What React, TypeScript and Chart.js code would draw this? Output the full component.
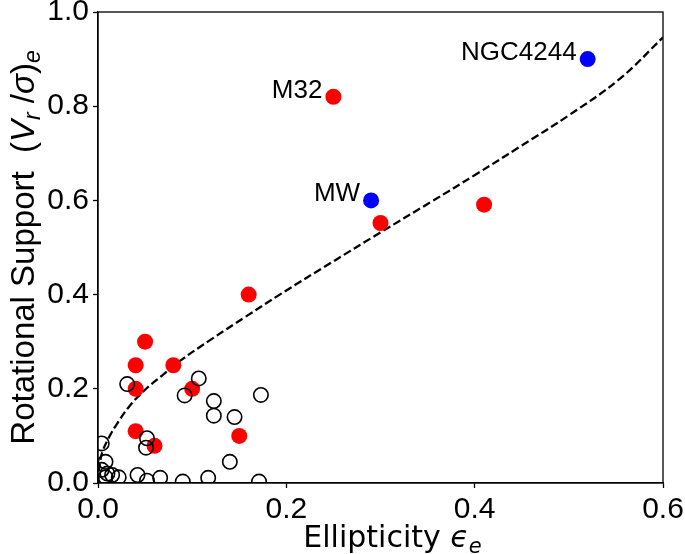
import React, { useEffect, useRef } from 'react';
import { Chart, registerables } from 'chart.js';

Chart.register(...registerables);

const FONT = '"Liberation Sans", "DejaVu Sans", Arial, sans-serif';
const FONT_WIDE = '"DejaVu Sans", "Liberation Sans", sans-serif';

const xTicks = [0, 0.2, 0.4, 0.6];
const yTicks = [0, 0.2, 0.4, 0.6, 0.8, 1.0];

// Open circles (comparison sample)
const openX = [0.031, 0.107, 0.092, 0.123, 0.123, 0.145, 0.173, 0.004, 0.052, 0.051, 0.140, 0.042, 0.066, 0.090, 0.117, 0.171, 0.052, 0.008, 0.004, 0.010, 0.015, 0.008, 0.022];
const openY = [0.210, 0.222, 0.186, 0.174, 0.143, 0.140, 0.187, 0.084, 0.095, 0.075, 0.045, 0.017, 0.011, 0.003, 0.011, 0.003, 0.005, 0.045, 0.028, 0.020, 0.017, 0.012, 0.012];

// Red filled points
const redX = [0.25, 0.30, 0.41, 0.16, 0.05, 0.04, 0.08, 0.04, 0.10, 0.04, 0.06, 0.15];
const redY = [0.82, 0.552, 0.591, 0.40, 0.30, 0.25, 0.25, 0.20, 0.20, 0.11, 0.079, 0.10];

// Blue filled points
const blueX = [0.29, 0.52];
const blueY = [0.60, 0.90];

// Dashed curve
const curveX = [0, 0.002, 0.005, 0.012, 0.019, 0.033, 0.05, 0.068, 0.089, 0.121, 0.156, 0.193, 0.247, 0.300, 0.353, 0.402, 0.448, 0.501, 0.554, 0.600];
const curveY = [0, 0.042, 0.068, 0.098, 0.122, 0.162, 0.198, 0.228, 0.262, 0.306, 0.352, 0.400, 0.467, 0.532, 0.596, 0.656, 0.714, 0.782, 0.858, 0.946];

// Annotations
const labelNames = ['M32', 'MW', 'NGC4244'];
const labelX = [0.25, 0.29, 0.52];
const labelY = [0.82, 0.60, 0.90];

const toPts = (xs: number[], ys: number[]) => xs.map((x, i) => ({ x, y: ys[i] }));

type Seg = { t: string; size: number; italic?: boolean; dy?: number; family?: string };

function drawSegs(ctx: CanvasRenderingContext2D, segs: Seg[]) {
  let total = 0;
  const widths: number[] = [];
  const fontOf = (s: Seg) => `${s.italic ? 'italic ' : ''}${s.size}px ${s.family || FONT}`;
  for (const s of segs) {
    ctx.font = fontOf(s);
    const w = ctx.measureText(s.t).width;
    widths.push(w);
    total += w;
  }
  let x = -total / 2;
  segs.forEach((s, i) => {
    ctx.font = fontOf(s);
    ctx.fillText(s.t, x, s.dy || 0);
    x += widths[i];
  });
}

const framePlugin = {
  id: 'frameAndText',
  afterDatasetsDraw(chart: any) {
    const ctx = chart.ctx as CanvasRenderingContext2D;
    const xs = chart.scales.x;
    const ys = chart.scales.y;
    ctx.save();
    ctx.fillStyle = '#000';
    ctx.font = `26px ${FONT}`;
    ctx.textAlign = 'right';
    ctx.textBaseline = 'alphabetic';
    labelNames.forEach((n, i) => {
      const px = xs.getPixelForValue(labelX[i]);
      const py = ys.getPixelForValue(labelY[i]);
      ctx.fillText(n, px - 11, py + 1);
    });
    ctx.restore();
  },
  afterDraw(chart: any) {
    const ctx = chart.ctx as CanvasRenderingContext2D;
    const a = chart.chartArea;
    ctx.save();
    ctx.strokeStyle = '#000';
    ctx.lineWidth = 1.3;
    ctx.strokeRect(a.left, a.top, a.right - a.left, a.bottom - a.top);

    ctx.fillStyle = '#000';
    ctx.textAlign = 'left';
    ctx.textBaseline = 'alphabetic';
    // x title
    ctx.save();
    ctx.translate((a.left + a.right) / 2 + 12, 547);
    drawSegs(ctx, [
      { t: 'Ellipticity ', size: 30, family: FONT_WIDE },
      { t: 'ϵ', size: 30, italic: true, family: FONT_WIDE },
      { t: 'e', size: 21, italic: true, dy: 6, family: FONT_WIDE },
    ]);
    ctx.restore();
    // y title
    ctx.save();
    ctx.translate(34, (a.top + a.bottom) / 2);
    ctx.rotate(-Math.PI / 2);
    drawSegs(ctx, [
      { t: 'Rotational Support  (', size: 33 },
      { t: 'V', size: 33, italic: true },
      { t: 'r', size: 23, italic: true, dy: 6 },
      { t: ' /', size: 33 },
      { t: 'σ', size: 33, italic: true },
      { t: ')', size: 33 },
      { t: 'e', size: 23, italic: true, dy: 6 },
    ]);
    ctx.restore();
    ctx.restore();
  },
};

export default function App() {
  const ref = useRef<HTMLCanvasElement | null>(null);
  useEffect(() => {
    if (!ref.current) return;
    const tickFont = { family: FONT, size: 30, lineHeight: 0.7 };
    const chart = new Chart(ref.current, {
      type: 'scatter',
      data: {
        datasets: [
          {
            data: toPts(curveX, curveY),
            showLine: true,
            borderColor: '#000',
            borderWidth: 2.3,
            borderDash: [8, 3.6],
            pointRadius: 0,
            tension: 0.4,
            order: 3,
            clip: 0,
          } as any,
          {
            data: toPts(redX, redY),
            backgroundColor: '#ff0000',
            borderWidth: 0,
            pointRadius: 8,
            order: 2,
            clip: 0,
          } as any,
          {
            data: toPts(blueX, blueY),
            backgroundColor: '#0000ff',
            borderWidth: 0,
            pointRadius: 8,
            order: 2,
            clip: 0,
          } as any,
          {
            data: toPts(openX, openY),
            backgroundColor: 'rgba(0,0,0,0)',
            borderColor: '#000',
            borderWidth: 1.6,
            pointRadius: 7.2,
            order: 1,
            clip: 0,
          } as any,
        ],
      },
      options: {
        responsive: false,
        animation: false,
        devicePixelRatio: 1,
        events: [],
        layout: { padding: { top: 12, right: 22, left: 0, bottom: 0 } },
        plugins: { legend: { display: false }, tooltip: { enabled: false } },
        scales: {
          x: {
            type: 'linear',
            min: 0,
            max: 0.6,
            afterBuildTicks: (s: any) => {
              s.ticks = xTicks.map((v) => ({ value: v }));
            },
            afterFit: (s: any) => {
              s.height = 71;
              s.paddingLeft = 0;
              s.paddingRight = 0;
            },
            ticks: {
              font: tickFont,
              color: '#000',
              padding: 11,
              maxRotation: 0,
              autoSkip: false,
              callback: (v: any) => Number(v).toFixed(1),
            },
            grid: { drawOnChartArea: false, drawTicks: true, tickLength: 5, color: '#000', tickWidth: 1.3 },
            border: { display: true, color: '#000', width: 1.3 },
          },
          y: {
            type: 'linear',
            min: 0,
            max: 1,
            afterBuildTicks: (s: any) => {
              s.ticks = yTicks.map((v) => ({ value: v }));
            },
            afterFit: (s: any) => {
              s.width = 98;
              s.paddingTop = 0;
              s.paddingBottom = 0;
            },
            ticks: {
              font: tickFont,
              color: '#000',
              padding: 4,
              autoSkip: false,
              callback: (v: any) => Number(v).toFixed(1),
            },
            grid: { drawOnChartArea: false, drawTicks: true, tickLength: 5, color: '#000', tickWidth: 1.3 },
            border: { display: true, color: '#000', width: 1.3 },
          },
        },
      } as any,
      plugins: [framePlugin],
    });
    return () => chart.destroy();
  }, []);
  return (
    <div style={{ position: 'fixed', left: 0, top: 0, width: 685, height: 554, background: '#fff' }}>
      <canvas ref={ref} width={685} height={554} style={{ display: 'block' }} />
    </div>
  );
}
